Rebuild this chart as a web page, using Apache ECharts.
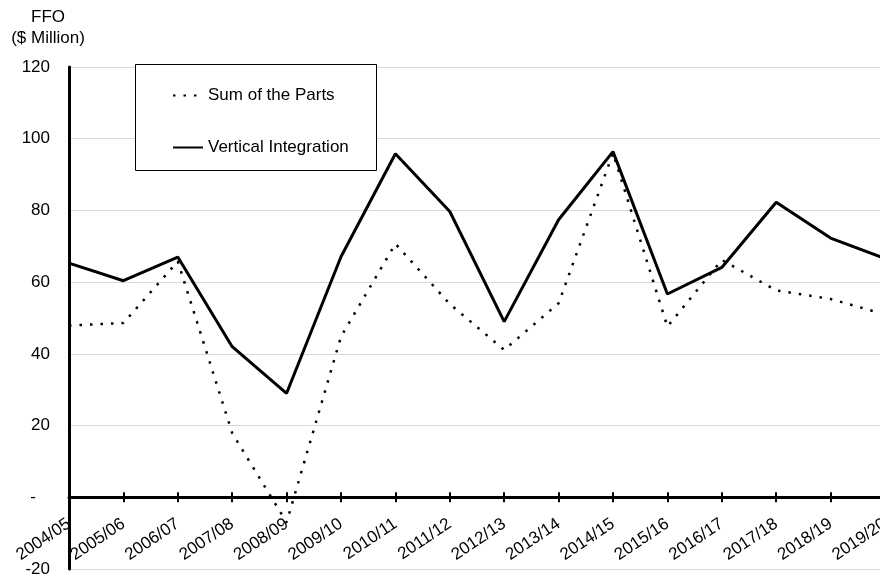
<!DOCTYPE html>
<html>
<head>
<meta charset="utf-8">
<script src="https://cdn.jsdelivr.net/npm/echarts@6/dist/echarts.min.js"></script>
<style>
  html, body { margin: 0; padding: 0; background: #fff; }
  #chart { width: 880px; height: 579px; }
</style>
</head>
<body>
<div id="chart"></div>
<script>
// Fiscal years on the category axis
const years = ['2004/05', '2005/06', '2006/07', '2007/08', '2008/09', '2009/10', '2010/11', '2011/12',
               '2012/13', '2013/14', '2014/15', '2015/16', '2016/17', '2017/18', '2018/19', '2019/20'];

// FFO, $ million
const sumOfParts = [47.9, 48.6, 65.8, 17.9, -7.0, 44.8, 70.7, 53.9, 41.1, 54.1, 96.0, 47.6, 66.2, 57.7, 55.3, 51.0];
const verticalIntegration = [65.3, 60.4, 67.0, 42.0, 29.0, 67.1, 95.8, 79.7, 49.0, 77.4, 96.4, 56.7, 64.1, 82.3, 72.3, 66.6];

// Value axis range and step
const yMin = -20;
const yMax = 120;
const yStep = 20;

const FONT = "'Liberation Sans', Arial, sans-serif";

const GRID_TOP = 67;
const GRID_BOTTOM = 10;
const PLOT_H = 579 - GRID_TOP - GRID_BOTTOM;
// distance from the bottom edge of the plot up to the zero line
const zeroLift = PLOT_H * (0 - yMin) / (yMax - yMin);

const chart = echarts.init(document.getElementById('chart'), null, { renderer: 'canvas' });

chart.setOption({
  animation: false,
  backgroundColor: '#ffffff',
  textStyle: { fontFamily: FONT, color: '#000' },
  title: {
    text: 'FFO\n($ Million)',
    left: 43,
    top: 2,
    textAlign: 'center',
    textStyle: { fontFamily: FONT, fontSize: 17, fontWeight: 'normal', color: '#000', lineHeight: 21 }
  },
  grid: { left: 69, right: -5, top: GRID_TOP, bottom: GRID_BOTTOM, containLabel: false, outerBoundsMode: 'none' },
  graphic: [{
    type: 'rect',
    z: 3,
    shape: { x: 135.5, y: 64.5, width: 241, height: 106 },
    style: { fill: '#fff', stroke: '#000', lineWidth: 1 }
  }],
  legend: {
    orient: 'vertical',
    left: 167,
    top: 82,
    itemWidth: 30,
    itemHeight: 14,
    itemGap: 35,
    z: 5,
    itemStyle: { opacity: 0 },
    textStyle: { fontFamily: FONT, fontSize: 17, color: '#000' },
    data: ['Sum of the Parts', 'Vertical Integration']
  },
  xAxis: [{
    type: 'category',
    data: years,
    position: 'bottom',
    boundaryGap: false,
    offset: -zeroLift,
    axisLine: { show: true, onZero: false, lineStyle: { color: '#000', width: 3 } },
    axisTick: { show: true, inside: false, length: 5, interval: 0, lineStyle: { color: '#000', width: 2 } },
    axisLabel: { show: true, interval: 0, rotate: 34, margin: 25, fontSize: 17, fontFamily: FONT, color: '#000', hideOverlap: false },
    splitLine: { show: false }
  }, {
    // upper half of the crossing tick marks
    type: 'category',
    data: years,
    position: 'bottom',
    boundaryGap: false,
    offset: -zeroLift,
    axisLine: { show: false, onZero: false },
    axisTick: { show: true, inside: true, length: 5, interval: 0, lineStyle: { color: '#000', width: 2 } },
    axisLabel: { show: false },
    splitLine: { show: false }
  }],
  yAxis: {
    type: 'value',
    min: yMin,
    max: yMax,
    interval: yStep,
    axisLine: { show: true, onZero: false, lineStyle: { color: '#000', width: 3 } },
    axisTick: { show: false },
    axisLabel: {
      margin: 19,
      fontSize: 17,
      fontFamily: FONT,
      color: '#000',
      formatter: v => (v === 0 ? '-   ' : String(v))
    },
    splitLine: { show: true, lineStyle: { color: '#d9d9d9', width: 1 } }
  },
  series: [{
    name: 'Sum of the Parts',
    type: 'line',
    data: sumOfParts,
    symbol: 'none',
    z: 3,
    lineStyle: { color: '#000', width: 2.5, type: [2.5, 8] },
    itemStyle: { color: '#000' }
  }, {
    name: 'Vertical Integration',
    type: 'line',
    data: verticalIntegration,
    symbol: 'none',
    z: 2,
    lineStyle: { color: '#000', width: 3 },
    itemStyle: { color: '#000' }
  }]
});
</script>
</body>
</html>
